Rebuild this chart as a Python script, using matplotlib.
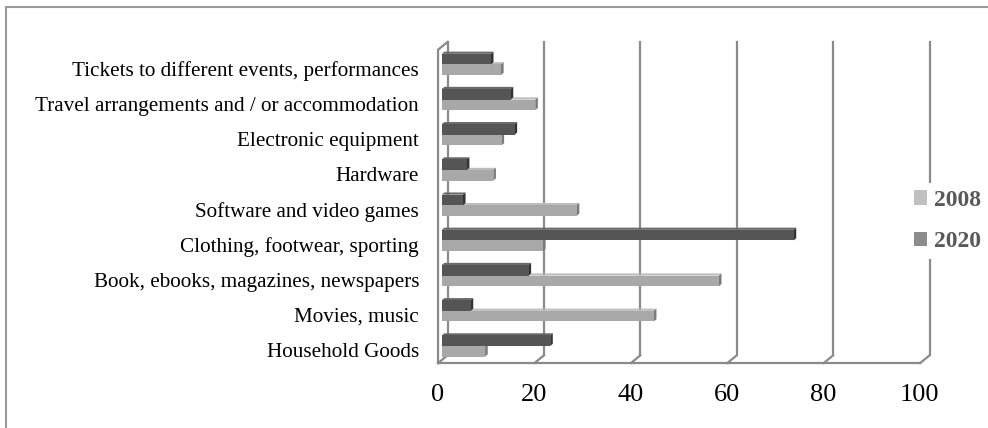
import numpy as np
import matplotlib.pyplot as plt
from matplotlib.patches import Polygon, Patch
from matplotlib.lines import Line2D
from matplotlib.transforms import ScaledTranslation

categories = ['Household Goods', 'Movies, music',
              'Book, ebooks, magazines, newspapers',
              'Clothing, footwear, sporting', 'Software and video games',
              'Hardware', 'Electronic equipment',
              'Travel arrangements and / or accommodation',
              'Tickets to different events, performances']
share_2008 = [9, 44, 57.5, 21, 28, 10.7, 12.4, 19.4, 12.3]
share_2020 = [22.5, 6, 18, 73, 4.4, 5.2, 15.1, 14.3, 10.2]
x_ticks = [0, 20, 40, 60, 80, 100]

plt.rcParams['font.family'] = ['Liberation Serif', 'DejaVu Serif']

W, H = 988, 428
fig = plt.figure(figsize=(W / 100, H / 100), dpi=100)
ax_box = [0.4471, 0.1586, 0.4879, 0.7321]
ax = fig.add_axes(ax_box)
ax.set_xlim(0, 100)
ax.set_ylim(-0.4, 8.5)
for sp in ax.spines.values():
    sp.set_visible(False)

# pixels per data unit, used for the fake 3D depth offsets
px_x = ax_box[2] * W / 100
px_y = ax_box[3] * H / 8.9


def dpx(x, y):
    return x / px_x, y / px_y


GRID = '#8a8a8a'
LIGHT, LIGHT_TOP, LIGHT_SIDE = '#a8a8a8', '#bcbcbc', '#7a7a7a'
DARK, DARK_TOP, DARK_SIDE = '#555555', '#6a6a6a', '#333333'

bx, by = dpx(5.8, 4.8)     # back wall
fx, fy = dpx(-3.7, -3.0)   # front edge
ddx, ddy = dpx(2.6, 2.2)   # bar depth
ylo, yhi = ax.get_ylim()

# back wall lines
for v in x_ticks:
    ax.plot([v + bx, v + bx], [ylo + by, yhi + by], color=GRID, lw=1.6,
            zorder=1, clip_on=False)
# floor front edge and depth ticks
ax.plot([fx, 100 + fx], [ylo + fy, ylo + fy], color=GRID, lw=1.6,
        zorder=1, clip_on=False)
for v in x_ticks:
    ax.plot([v + fx, v + bx], [ylo + fy, ylo + by], color=GRID, lw=1.6,
            zorder=1, clip_on=False)
# left wall front edge
ax.plot([fx, fx, bx], [ylo + fy, yhi + fy, yhi + by], color=GRID, lw=1.6,
        zorder=1, clip_on=False)

ypos = np.arange(len(categories))
h = 0.3
bars08 = ax.barh(ypos - h, share_2008, height=h, align='edge',
                 color=LIGHT, zorder=3)
bars20 = ax.barh(ypos, share_2020, height=h, align='edge',
                 color=DARK, zorder=5)


def add_depth(bars, top_c, side_c, z):
    for p in bars:
        x0, y0, w, hh = p.get_x(), p.get_y(), p.get_width(), p.get_height()
        top = [(x0, y0 + hh), (x0 + w, y0 + hh),
               (x0 + w + ddx, y0 + hh + ddy), (x0 + ddx, y0 + hh + ddy)]
        side = [(x0 + w, y0), (x0 + w, y0 + hh),
                (x0 + w + ddx, y0 + hh + ddy), (x0 + w + ddx, y0 + ddy)]
        ax.add_patch(Polygon(top, closed=True, fc=top_c, ec='none', zorder=z))
        ax.add_patch(Polygon(side, closed=True, fc=side_c, ec='none', zorder=z))


add_depth(bars08, LIGHT_TOP, LIGHT_SIDE, 2.5)
add_depth(bars20, DARK_TOP, DARK_SIDE, 4.5)

ax.set_yticks(ypos, categories, fontsize=15.2)
ax.tick_params(axis='y', length=0, pad=16.3)
for lab in ax.get_yticklabels():
    lab.set_transform(lab.get_transform() +
                      ScaledTranslation(0, -0.04, fig.dpi_scale_trans))

ax.set_xticks(x_ticks, [str(v) for v in x_ticks], fontsize=19)
ax.tick_params(axis='x', length=0, pad=17)
for lab in ax.get_xticklabels():
    lab.set_transform(lab.get_transform() +
                      ScaledTranslation(-0.04, 0, fig.dpi_scale_trans))

handles = [Patch(facecolor='#c0c0c0'), Patch(facecolor='#8c8c8c')]
leg = fig.legend(handles, ['2008', '2020'], loc='center left',
                 bbox_to_anchor=(895 / W, 1 - 221 / H),
                 frameon=True, facecolor='white', edgecolor='none',
                 framealpha=1, prop=dict(weight='bold', size=17),
                 labelcolor='#595959', handlelength=0.55, handleheight=0.55,
                 handletextpad=0.3, labelspacing=0.85, borderpad=0.3)

# outer chart border
fig.add_artist(Line2D([6 / W, 1], [1 - 7 / H, 1 - 7 / H],
                      transform=fig.transFigure, color='#9a9a9a', lw=1.5))
fig.add_artist(Line2D([6 / W, 6 / W], [0, 1 - 7 / H],
                      transform=fig.transFigure, color='#9a9a9a', lw=1.5))

fig.savefig('out.png', dpi=100, facecolor='white')
